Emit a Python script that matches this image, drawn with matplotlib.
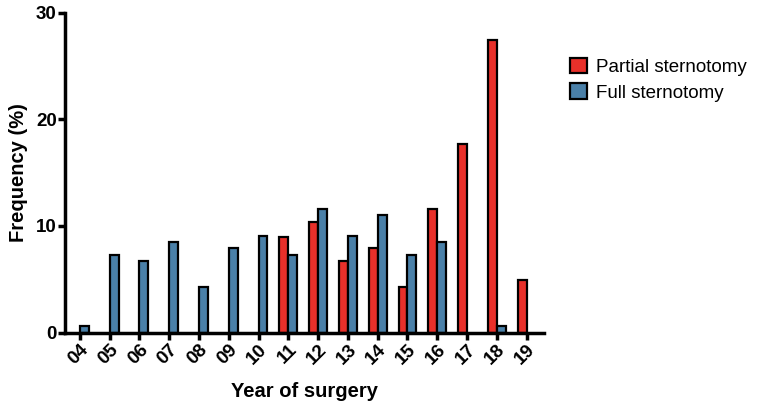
import numpy as np
import matplotlib.pyplot as plt

plt.rcParams['font.family'] = ['Liberation Sans', 'DejaVu Sans']

# years of surgery and frequency (%) per group
years = ['04', '05', '06', '07', '08', '09', '10', '11',
         '12', '13', '14', '15', '16', '17', '18', '19']
partial = [0, 0, 0, 0, 0, 0, 0, 9.0, 10.4, 6.7, 7.9, 4.3, 11.6, 17.7, 27.4, 4.9]
full = [0.6, 7.3, 6.7, 8.5, 4.3, 7.9, 9.1, 7.3, 11.6, 9.1, 11.0, 7.3, 8.5, 0, 0.6, 0]

red = '#E8302A'
blue = '#4A80A8'

fig = plt.figure(figsize=(7.61, 4.08), dpi=100)
ax = fig.add_axes([0.0854, 0.1846, 0.630, 0.7845])

x = np.arange(len(years))
w = 0.3
for i in range(len(years)):
    # only draw non-zero bars, like the original
    if partial[i] > 0:
        ax.bar(x[i] - w / 2, partial[i], w, color=red, edgecolor='black', linewidth=1.6)
    if full[i] > 0:
        ax.bar(x[i] + w / 2, full[i], w, color=blue, edgecolor='black', linewidth=1.6)

ax.set_xlim(-0.5, 15.6)
ax.set_ylim(0, 30)
ax.set_yticks([0, 10, 20, 30])
ax.set_xticks(x)
ax.set_xticklabels(years, rotation=45, ha='right', va='top', rotation_mode='anchor',
                   fontsize=13.5, fontweight='bold')
for lab in ax.get_yticklabels():
    lab.set_fontsize(13.5)
    lab.set_fontweight('bold')

for s in ['top', 'right']:
    ax.spines[s].set_visible(False)
for s in ['left', 'bottom']:
    ax.spines[s].set_linewidth(2.5)
ax.tick_params(width=2.5, length=5, pad=1)

ax.set_ylabel('Frequency (%)', fontsize=14.5, fontweight='bold', labelpad=6)
ax.set_xlabel('Year of surgery', fontsize=14.5, fontweight='bold', labelpad=10)

handles = [plt.Rectangle((0, 0), 1, 1, facecolor=red, edgecolor='black', linewidth=1.6),
           plt.Rectangle((0, 0), 1, 1, facecolor=blue, edgecolor='black', linewidth=1.6)]
fig.legend(handles, ['Partial sternotomy', 'Full sternotomy'],
           loc='upper left', bbox_to_anchor=(0.727, 0.9), frameon=False,
           fontsize=13.5, handlelength=0.9, handleheight=0.9, handletextpad=0.5,
           labelspacing=0.4)

fig.savefig('out.png', dpi=100)
